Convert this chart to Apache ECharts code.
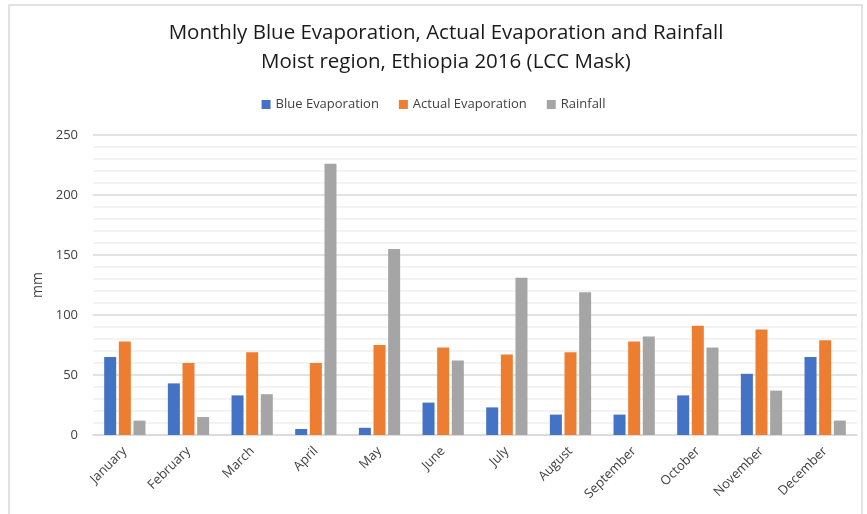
<!DOCTYPE html>
<html>
<head>
<meta charset="utf-8">
<script src="https://cdn.jsdelivr.net/npm/echarts@6/dist/echarts.min.js"></script>
<style>
  html, body { margin: 0; padding: 0; background: #fff; }
  #main { width: 867px; height: 514px; }
</style>
</head>
<body>
<div id="main"></div>
<script>
// monthly values, mm
var months = ['January', 'February', 'March', 'April', 'May', 'June',
  'July', 'August', 'September', 'October', 'November', 'December'];
var blueEvap = [65, 43, 33, 5, 6, 27, 23, 17, 17, 33, 51, 65];
var actualEvap = [78, 60, 69, 60, 75, 73, 67, 69, 78, 91, 88, 79];
var rainfall = [12, 15, 34, 226, 155, 62, 131, 119, 82, 73, 37, 12];

var font = '"Open Sans", "Noto Sans", sans-serif';

var chart = echarts.init(document.getElementById('main'), null, { renderer: 'canvas' });

function barSeries(name, data, color) {
  return {
    name: name,
    type: 'bar',
    data: data,
    barWidth: 12,
    barGap: '22%',
    itemStyle: { color: color }
  };
}

var option = {
  backgroundColor: '#ffffff',
  animation: false,
  graphic: [{
    type: 'rect',
    shape: { x: 9, y: 5, width: 853, height: 530 },
    style: { fill: 'none', stroke: '#d9d9d9', lineWidth: 1.5 },
    silent: true
  }],
  title: {
    text: 'Monthly Blue Evaporation, Actual Evaporation and Rainfall\nMoist region, Ethiopia 2016 (LCC Mask)',
    left: 441,
    textAlign: 'center',
    top: 14,
    textStyle: {
      fontFamily: font,
      fontSize: 20.5,
      fontWeight: 'normal',
      color: '#1a1a1a',
      lineHeight: 29
    }
  },
  legend: {
    top: 93,
    left: 'center',
    itemWidth: 9,
    itemHeight: 9,
    itemGap: 20,
    icon: 'rect',
    textStyle: { fontFamily: font, fontSize: 13, color: '#404040' },
    data: ['Blue Evaporation', 'Actual Evaporation', 'Rainfall']
  },
  grid: {
    left: 93,
    right: 10,
    top: 135,
    bottom: 79,
    containLabel: false
  },
  xAxis: {
    type: 'category',
    data: months,
    axisTick: { show: false },
    axisLine: { lineStyle: { color: '#d9d9d9', width: 1.5 } },
    axisLabel: {
      rotate: 45,
      margin: 14,
      fontFamily: font,
      fontSize: 13,
      color: '#404040',
      interval: 0
    }
  },
  yAxis: {
    type: 'value',
    min: 0,
    max: 250,
    interval: 50,
    name: 'mm',
    nameLocation: 'middle',
    nameGap: 45,
    nameRotate: 90,
    nameTextStyle: { fontFamily: font, fontSize: 14, color: '#404040' },
    axisLine: { show: false },
    axisTick: { show: false },
    axisLabel: {
      margin: 15,
      fontFamily: font,
      fontSize: 13,
      color: '#404040'
    },
    splitLine: { lineStyle: { color: '#d9d9d9', width: 1.5 } },
    minorTick: { show: false, splitNumber: 5 },
    minorSplitLine: { show: true, lineStyle: { color: '#f0f0f0', width: 1.5 } }
  },
  series: [
    barSeries('Blue Evaporation', blueEvap, '#4472c4'),
    barSeries('Actual Evaporation', actualEvap, '#ed7d31'),
    barSeries('Rainfall', rainfall, '#a5a5a5')
  ]
};

chart.setOption(option);
</script>
</body>
</html>
